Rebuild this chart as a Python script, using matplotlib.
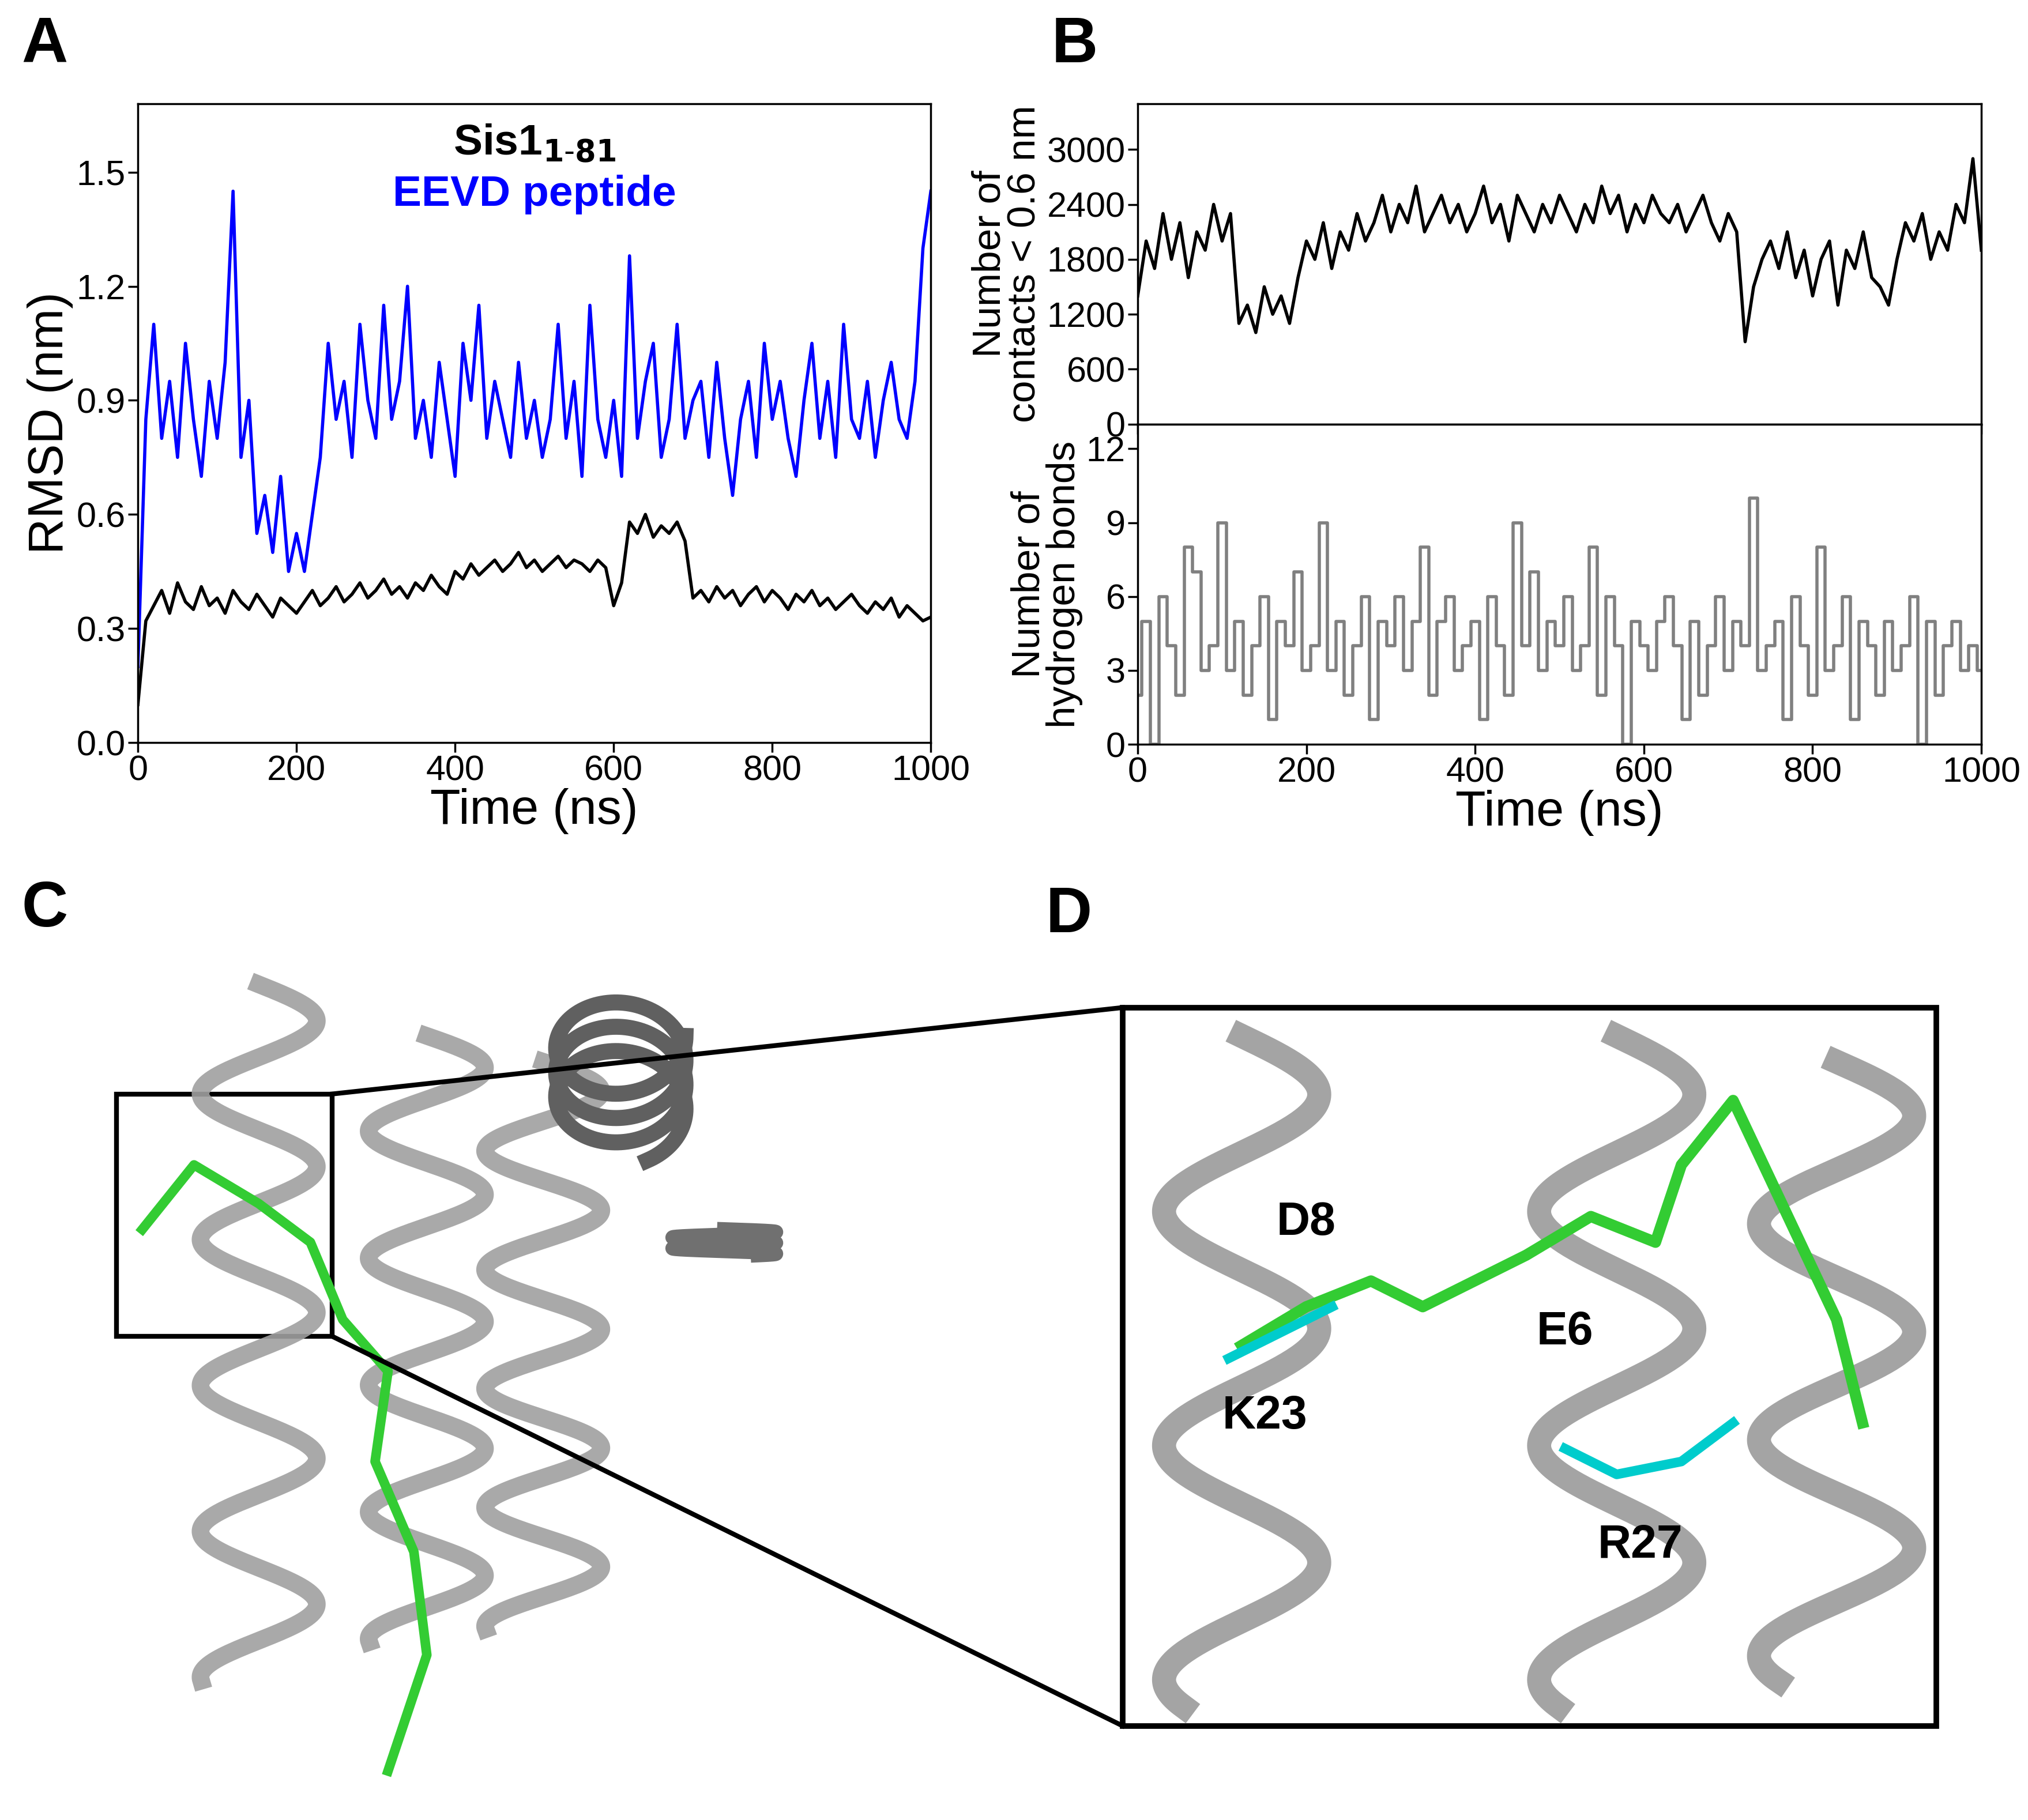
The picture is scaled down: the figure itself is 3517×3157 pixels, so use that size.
import numpy as np
import matplotlib
matplotlib.use("Agg")
import matplotlib.pyplot as plt
from matplotlib.patches import Rectangle

plt.rcParams['font.family'] = ['Arial', 'Liberation Sans', 'DejaVu Sans']

# values read every 10 ns
time = list(range(0, 1001, 10))
rmsd_sis1 = [0.10, 0.32, 0.36, 0.40, 0.34, 0.42, 0.37, 0.35, 0.41, 0.36, 0.38,
             0.34, 0.40, 0.37, 0.35, 0.39, 0.36, 0.33, 0.38, 0.36, 0.34,
             0.37, 0.40, 0.36, 0.38, 0.41, 0.37, 0.39, 0.42, 0.38, 0.40,
             0.43, 0.39, 0.41, 0.38, 0.42, 0.40, 0.44, 0.41, 0.39, 0.45,
             0.43, 0.47, 0.44, 0.46, 0.48, 0.45, 0.47, 0.50, 0.46, 0.48,
             0.45, 0.47, 0.49, 0.46, 0.48, 0.47, 0.45, 0.48, 0.46, 0.36,
             0.42, 0.58, 0.55, 0.60, 0.54, 0.57, 0.55, 0.58, 0.53, 0.38,
             0.40, 0.37, 0.41, 0.38, 0.40, 0.36, 0.39, 0.41, 0.37, 0.40,
             0.38, 0.35, 0.39, 0.37, 0.40, 0.36, 0.38, 0.35, 0.37, 0.39,
             0.36, 0.34, 0.37, 0.35, 0.38, 0.33, 0.36, 0.34, 0.32, 0.33]
rmsd_eevd = [0.20, 0.85, 1.10, 0.80, 0.95, 0.75, 1.05, 0.85, 0.70, 0.95, 0.80,
             1.00, 1.45, 0.75, 0.90, 0.55, 0.65, 0.50, 0.70, 0.45, 0.55,
             0.45, 0.60, 0.75, 1.05, 0.85, 0.95, 0.75, 1.10, 0.90, 0.80,
             1.15, 0.85, 0.95, 1.20, 0.80, 0.90, 0.75, 1.00, 0.85, 0.70,
             1.05, 0.90, 1.15, 0.80, 0.95, 0.85, 0.75, 1.00, 0.80, 0.90,
             0.75, 0.85, 1.10, 0.80, 0.95, 0.70, 1.15, 0.85, 0.75, 0.90,
             0.70, 1.28, 0.80, 0.95, 1.05, 0.75, 0.85, 1.10, 0.80, 0.90,
             0.95, 0.75, 1.00, 0.80, 0.65, 0.85, 0.95, 0.75, 1.05, 0.85,
             0.95, 0.80, 0.70, 0.90, 1.05, 0.80, 0.95, 0.75, 1.10, 0.85,
             0.80, 0.95, 0.75, 0.90, 1.00, 0.85, 0.80, 0.95, 1.30, 1.45]
contacts = [1400, 2000, 1700, 2300, 1800, 2200, 1600, 2100, 1900, 2400, 2000,
            2300, 1100, 1300, 1000, 1500, 1200, 1400, 1100, 1600, 2000,
            1800, 2200, 1700, 2100, 1900, 2300, 2000, 2200, 2500, 2100,
            2400, 2200, 2600, 2100, 2300, 2500, 2200, 2400, 2100, 2300,
            2600, 2200, 2400, 2000, 2500, 2300, 2100, 2400, 2200, 2500,
            2300, 2100, 2400, 2200, 2600, 2300, 2500, 2100, 2400, 2200,
            2500, 2300, 2200, 2400, 2100, 2300, 2500, 2200, 2000, 2300,
            2100, 900, 1500, 1800, 2000, 1700, 2100, 1600, 1900, 1400,
            1800, 2000, 1300, 1900, 1700, 2100, 1600, 1500, 1300, 1800,
            2200, 2000, 2300, 1800, 2100, 1900, 2400, 2200, 2900, 1900]
hbonds = [2, 5, 0, 6, 4, 2, 8, 7, 3, 4, 9,
          3, 5, 2, 4, 6, 1, 5, 4, 7, 3,
          4, 9, 3, 5, 2, 4, 6, 1, 5, 4,
          6, 3, 5, 8, 2, 5, 6, 3, 4, 5,
          1, 6, 4, 2, 9, 4, 7, 3, 5, 4,
          6, 3, 4, 8, 2, 6, 4, 0, 5, 4,
          3, 5, 6, 4, 1, 5, 2, 4, 6, 3,
          5, 4, 10, 3, 4, 5, 1, 6, 4, 2,
          8, 3, 4, 6, 1, 5, 4, 2, 5, 3,
          4, 6, 0, 5, 2, 4, 5, 3, 4, 3]

fig = plt.figure(figsize=(35.17, 31.57), dpi=100)

def style(ax):
    ax.tick_params(labelsize=44, width=2.5, length=12)
    for s in ax.spines.values():
        s.set_linewidth(2.5)

# Panel A
axA = fig.add_axes([0.068, 0.592, 0.391, 0.351])
axA.plot(time, rmsd_eevd, color='blue', lw=4)
axA.plot(time, rmsd_sis1, color='black', lw=4)
axA.set_xlim(0, 1000)
axA.set_ylim(0, 1.68)
axA.set_yticks([0, 0.3, 0.6, 0.9, 1.2, 1.5])
axA.set_xticks([0, 200, 400, 600, 800, 1000])
axA.set_xlabel('Time (ns)', fontsize=62, labelpad=0)
axA.set_ylabel('RMSD (nm)', fontsize=62)
style(axA)
axA.text(0.5, 0.92, r'Sis1$_{\mathbf{1\text{-}81}}$', transform=axA.transAxes,
         ha='center', fontsize=54, fontweight='bold')
axA.text(0.5, 0.84, 'EEVD peptide', transform=axA.transAxes, ha='center',
         fontsize=54, fontweight='bold', color='blue')

# Panel B
axB1 = fig.add_axes([0.561, 0.767, 0.416, 0.176])
axB2 = fig.add_axes([0.561, 0.591, 0.416, 0.176], sharex=axB1)
axB1.plot(time, contacts, color='black', lw=4)
axB1.set_ylim(0, 3500)
axB1.set_yticks([0, 600, 1200, 1800, 2400, 3000])
axB1.set_ylabel('Number of\ncontacts < 0.6 nm', fontsize=50, linespacing=0.95)
axB1.tick_params(labelbottom=False)
axB2.step(time, hbonds, color='gray', lw=4, where='mid')
axB2.set_ylim(0, 13)
axB2.set_yticks([0, 3, 6, 9, 12])
axB2.set_xlim(0, 1000)
axB2.set_xticks([0, 200, 400, 600, 800, 1000])
axB2.set_xlabel('Time (ns)', fontsize=62, labelpad=0)
axB2.set_ylabel('Number of\nhydrogen bonds', fontsize=50, linespacing=0.95)
for a in (axB1, axB2):
    style(a)
fig.align_ylabels([axB1, axB2])

# Panels C and D (structure images, drawn schematically)
axS = fig.add_axes([0, 0, 1, 0.53])
axS.set_xlim(0, 1568)
axS.set_ylim(1408, 660)
axS.axis('off')
t = np.linspace(0, 1, 400)
for x0, y0, y1 in [(200, 760, 1300), (330, 800, 1270), (420, 820, 1260)]:
    yy = y0 + (y1 - y0) * t
    axS.plot(x0 + 45 * np.sin(t * 30), yy, color='#a0a0a0', lw=22, alpha=0.9)
axS.plot(480 + 50 * np.cos(t * 20), 800 + 40 * np.sin(t * 20) + 60 * t, color='#606060', lw=20)
axS.plot(560 + 40 * np.sin(t * 15), 950 + 20 * t, color='#707070', lw=18)
axS.plot([110, 150, 200, 240, 265, 300, 290, 320, 330, 300], [950, 900, 930, 960, 1020, 1060, 1130, 1200, 1280, 1370],
         color='#33cc33', lw=12)
axS.add_patch(Rectangle((90, 845), 167, 188, fill=False, lw=6, ec='black'))
axS.plot([257, 868], [845, 778], color='black', lw=6)
axS.plot([257, 868], [1033, 1335], color='black', lw=6)
axS.add_patch(Rectangle((868, 778), 629, 557, fc='white', lw=7, ec='black', zorder=3))
for x0, y0, y1 in [(960, 800, 1320), (1250, 800, 1320), (1420, 820, 1300)]:
    yy = y0 + (y1 - y0) * t
    axS.plot(x0 + 60 * np.sin(t * 18), yy, color='#9a9a9a', lw=30, alpha=0.9, zorder=4)
axS.plot([960, 1010, 1060, 1100, 1180, 1230, 1280, 1300, 1340, 1420, 1440],
         [1040, 1010, 990, 1010, 970, 940, 960, 900, 850, 1020, 1100], color='#33cc33', lw=14, zorder=5)
axS.plot([950, 990, 1030], [1050, 1030, 1010], color='#00cccc', lw=12, zorder=5)
axS.plot([1210, 1250, 1300, 1340], [1120, 1140, 1130, 1100], color='#00cccc', lw=12, zorder=5)
for txt, x, y in [('D8', 1010, 945), ('E6', 1210, 1030), ('K23', 978, 1095), ('R27', 1268, 1195)]:
    axS.text(x, y, txt, fontsize=58, fontweight='bold', ha='center', va='center', zorder=6)

for lab, x, y in [('A', 0.022, 0.975), ('B', 0.53, 0.975), ('C', 0.022, 0.5), ('D', 0.527, 0.497)]:
    fig.text(x, y, lab, fontsize=80, fontweight='bold', ha='center', va='center')

fig.savefig('out.png', dpi=100)
